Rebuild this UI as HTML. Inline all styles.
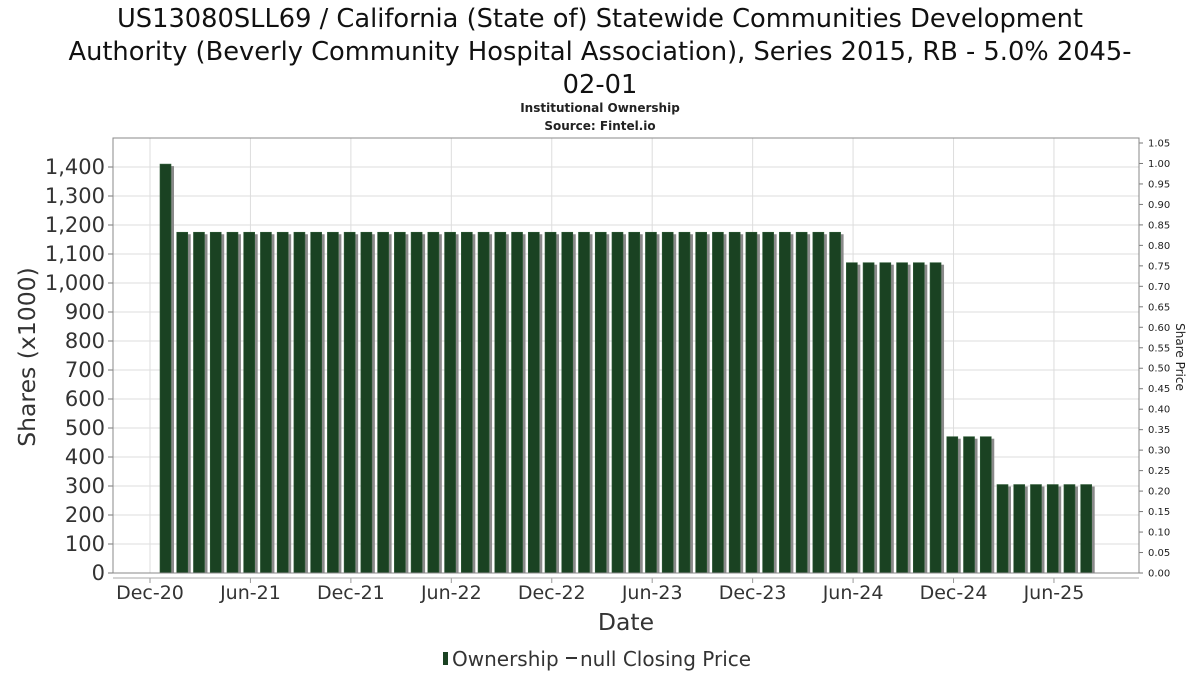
<!DOCTYPE html>
<html><head><meta charset="utf-8"><style>
body{margin:0;background:#fff;font-family:"DejaVu Sans","Liberation Sans",sans-serif;}
</style></head><body>
<svg id="c" width="1200" height="675" xmlns="http://www.w3.org/2000/svg">
<text x="600" y="27" font-size="25.7" text-anchor="middle" fill="#111">US13080SLL69 / California (State of) Statewide Communities Development</text>
<text x="600" y="60" font-size="25.7" text-anchor="middle" fill="#111">Authority (Beverly Community Hospital Association), Series 2015, RB - 5.0% 2045-</text>
<text x="600" y="93" font-size="25.7" text-anchor="middle" fill="#111">02-01</text>
<text x="600" y="112" font-size="12" font-weight="bold" text-anchor="middle" fill="#222">Institutional Ownership</text>
<text x="600" y="130" font-size="12" font-weight="bold" text-anchor="middle" fill="#222">Source: Fintel.io</text>
<g id="grid"></g><g id="bars"></g><g id="axes"></g>
<text x="35" y="357" font-size="23.5" fill="#333" text-anchor="middle" transform="rotate(-90 35 357)">Shares (x1000)</text>
<text x="1176" y="357" font-size="12" fill="#222" text-anchor="middle" transform="rotate(90 1176 357)">Share Price</text>
<text x="626" y="630" font-size="23.5" fill="#333" text-anchor="middle">Date</text>
<g>
<rect x="443" y="652" width="5" height="13" fill="#1a4222"/>
<text x="452" y="666" font-size="20" fill="#333">Ownership</text>
<line x1="566" y1="658" x2="577" y2="658" stroke="#333" stroke-width="2"/>
<text x="580" y="666" font-size="20" fill="#333">null Closing Price</text>
</g>
</svg>
<script>
const values=[1410,1175,1175,1175,1175,1175,1175,1175,1175,1175,1175,1175,1175,1175,1175,1175,1175,1175,1175,1175,1175,1175,1175,1175,1175,1175,1175,1175,1175,1175,1175,1175,1175,1175,1175,1175,1175,1175,1175,1175,1175,1070,1070,1070,1070,1070,1070,470,470,470,305,305,305,305,305,305];
const yTicks=[0,100,200,300,400,500,600,700,800,900,1000,1100,1200,1300,1400];
const y2Ticks=[0,0.05,0.1,0.15,0.2,0.25,0.3,0.35,0.4,0.45,0.5,0.55,0.6,0.65,0.7,0.75,0.8,0.85,0.9,0.95,1.0,1.05];
const xLabels=["Dec-20","Jun-21","Dec-21","Jun-22","Dec-22","Jun-23","Dec-23","Jun-24","Dec-24","Jun-25"];
const xLabelMonths=[0,6,12,18,24,30,36,42,48,54];
const NS="http://www.w3.org/2000/svg";
const L=113,R=1139,T=138,B=573;
const y=v=>B-v*0.29;
const y2=v=>B-v*(430/1.05);
const xm=m=>150+m*16.74;
function mk(tag,attrs,parent){const e=document.createElementNS(NS,tag);for(const k in attrs)e.setAttribute(k,attrs[k]);parent.appendChild(e);return e;}
const grid=document.getElementById('grid'),bars=document.getElementById('bars'),axes=document.getElementById('axes');
yTicks.forEach(t=>{
 const l=mk('line',{x1:L,x2:R,y1:y(t),y2:y(t),stroke:'#ddd','stroke-width':1},grid);
 
 
 const tk=mk('line',{x1:L-5,x2:L,y1:y(t),y2:y(t),stroke:'#777'},axes);
 
 
 const tx=mk('text',{x:L-8,y:y(t)+7,'font-size':21,fill:'#333','text-anchor':'end'},axes);
 tx.textContent=t.toLocaleString('en-US');
 
 
});
xLabelMonths.forEach((m,i)=>{
 const l=mk('line',{x1:xm(m),x2:xm(m),y1:T,y2:B,stroke:'#ddd'},grid);
 
 
 const tk=mk('line',{x1:xm(m),x2:xm(m),y1:578,y2:583,stroke:'#999'},axes);
 
 
 const tx=mk('text',{x:xm(m),y:599,'font-size':19,fill:'#333','text-anchor':'middle'},axes);
 tx.textContent=xLabels[i];
 
 
});
y2Ticks.forEach(t=>{
 const tk=mk('line',{x1:R,x2:R+4,y1:y2(t),y2:y2(t),stroke:'#777'},axes);
 
 
 const tx=mk('text',{x:R+9,y:y2(t)+3.5,'font-size':10,fill:'#222'},axes);
 tx.textContent=t.toFixed(2);
 
 
});
values.forEach((v,i)=>{
 const x=160+i*16.74;
 const s=mk('rect',{x:x+3,y:y(v)+2,width:11,height:B-y(v)-2,fill:'#8a8a8a'},bars);
 
 
 const b=mk('rect',{x:x,y:y(v),width:11,height:B-y(v),fill:'#1a4222',stroke:'#2e5a36','stroke-width':0.6},bars);
 
 
});
const frame=mk('path',{d:`M${L} ${T} H${R} V${B} H${L} Z`,fill:'none',stroke:'#888','stroke-width':1},axes);


const xa=mk('line',{x1:L,x2:R,y1:578,y2:578,stroke:'#aaa'},axes);


</script>
</body></html>
